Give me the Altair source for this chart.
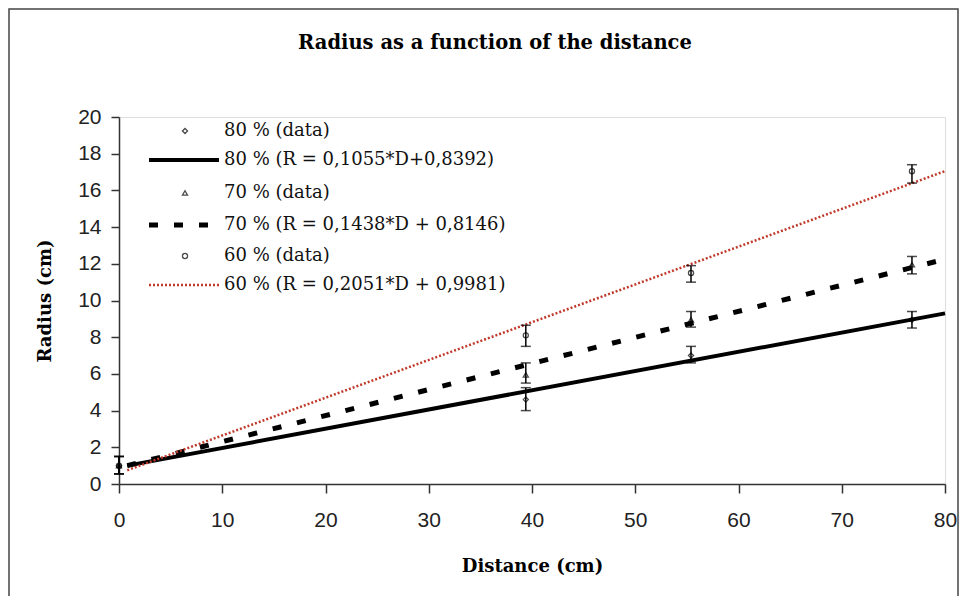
import altair as alt
import pandas as pd

# ---------------- data ----------------
SERIES = ["80 %", "70 %", "60 %"]
DIST = [0, 39.4, 55.4, 76.8]
R_80 = [1.0, 4.6, 7.0, 8.95]
LO_80 = [0.55, 4.0, 6.6, 8.5]
HI_80 = [1.5, 5.25, 7.5, 9.4]
R_70 = [1.0, 5.95, 8.95, 11.95]
LO_70 = [0.55, 5.5, 8.55, 11.45]
HI_70 = [1.5, 6.6, 9.4, 12.4]
R_60 = [1.0, 8.1, 11.5, 17.05]
LO_60 = [0.55, 7.5, 11.0, 16.4]
HI_60 = [1.5, 8.65, 11.9, 17.4]

FIT_D = [0.8, 80]
FIT_80 = [1.0, 9.3]
FIT_70 = [1.0, 12.25]
FIT_60 = [0.75, 17.05]

TITLE = "Radius as a function of the distance"
LEGEND_LABELS = [
    "80 % (data)",
    "80 % (R = 0,1055*D+0,8392)",
    "70 % (data)",
    "70 % (R = 0,1438*D + 0,8146)",
    "60 % (data)",
    "60 % (R = 0,2051*D + 0,9981)",
]
X_TICKS = [0, 10, 20, 30, 40, 50, 60, 70, 80]
Y_TICKS = [0, 2, 4, 6, 8, 10, 12, 14, 16, 18, 20]

# ---------------- styles ----------------
W, H = 826, 367
RED = "#c0392b"
SHAPES = {"80 %": "diamond", "70 %": "triangle-up", "60 %": "circle"}
LINE_STYLE = {
    "80 %": dict(color="black", strokeWidth=4),
    "70 %": dict(color="black", strokeWidth=5, strokeDash=[9, 16]),
    "60 %": dict(color=RED, strokeWidth=2.5, strokeDash=[2, 2]),
}
LEG_Y = [14, 43, 76, 108, 139, 168]
SERIF = "DejaVu Serif"
SANS = "Liberation Sans"

pts = pd.DataFrame({
    "series": sum([[s] * len(DIST) for s in SERIES], []),
    "D": DIST * 3,
    "R": R_80 + R_70 + R_60,
    "lo": LO_80 + LO_70 + LO_60,
    "hi": HI_80 + HI_70 + HI_60,
})
fits = {"80 %": FIT_80, "70 %": FIT_70, "60 %": FIT_60}

xs = alt.Scale(domain=[0, 80], nice=False, zero=False)
ys = alt.Scale(domain=[0, 20], nice=False, zero=False)

XAX = alt.Axis(
    values=X_TICKS, title="Distance (cm)", grid=False, labelFlush=False,
    labelOverlap=False,
    tickSize=9, labelPadding=16, labelFont=SANS, labelFontSize=21,
    labelColor="#222",
    domainColor="#333", tickColor="#333", domainWidth=1.5, tickWidth=1.5,
    titleFont=SERIF, titleFontSize=18, titleFontWeight="bold", titleColor="black",
    titleX=W / 2, titleY=82, titleBaseline="middle", titleAlign="center")
YAX = alt.Axis(
    values=Y_TICKS, title="Radius (cm)", grid=False, labelFlush=False,
    labelOverlap=False,
    tickSize=8, labelPadding=10, labelFont=SANS, labelFontSize=21,
    labelColor="#222",
    domainColor="#333", tickColor="#333", domainWidth=1.5, tickWidth=1.5,
    titleFont=SERIF, titleFontSize=18, titleFontWeight="bold", titleColor="black",
    titleX=-74, titleY=H / 2, titleAngle=270, titleBaseline="middle", titleAlign="center")


def xq(f):
    return alt.X(f"{f}:Q", scale=xs, axis=XAX)


def yq(f):
    return alt.Y(f"{f}:Q", scale=ys, axis=YAX)


layers = []

# fitted lines
for s in SERIES:
    df = pd.DataFrame({"D": FIT_D, "R": fits[s]})
    layers.append(alt.Chart(df).mark_line(**LINE_STYLE[s]).encode(x=xq("D"), y=yq("R")))

# error bars + markers
for s in SERIES:
    sub = pts[pts.series == s]
    base = alt.Chart(sub)
    layers.append(base.mark_rule(color="black", strokeWidth=1.5).encode(
        x=xq("D"), y=yq("lo"), y2="hi:Q"))
    for f in ["lo", "hi"]:
        layers.append(base.mark_point(shape="stroke", size=100, color="black",
                                      strokeWidth=1.5).encode(x=xq("D"), y=yq(f)))
    layers.append(base.mark_point(shape=SHAPES[s], size=26, color="black",
                                  filled=False, strokeWidth=1.3).encode(
        x=xq("D"), y=yq("R")))

# legend (drawn inside the plot, top-left)
one = pd.DataFrame({"k": [0]})
for i, lab in enumerate(LEGEND_LABELS):
    s = SERIES[i // 2]
    yv = LEG_Y[i]
    if i % 2 == 0:
        layers.append(alt.Chart(one).mark_point(
            shape=SHAPES[s], size=26, color="black", filled=False, strokeWidth=1.3
        ).encode(x=alt.value(66), y=alt.value(yv)))
    else:
        layers.append(alt.Chart(one).mark_rule(**LINE_STYLE[s]).encode(
            x=alt.value(30), x2=alt.value(100), y=alt.value(yv)))
    layers.append(alt.Chart(one).mark_text(
        text=lab, align="left", baseline="middle", font=SERIF, fontSize=18,
        color="#111").encode(x=alt.value(105), y=alt.value(yv)))

# chart title
layers.append(alt.Chart(one).mark_text(
    text=TITLE, align="center", baseline="middle", font=SERIF, fontSize=19.5,
    fontWeight="bold", color="black").encode(x=alt.value(376), y=alt.value(-74)))

# outer frame of the chart
layers.append(alt.Chart(one).mark_rect(
    fill="transparent", stroke="#444", strokeWidth=1.5).encode(
    x=alt.value(-110), x2=alt.value(W + 13), y=alt.value(-108), y2=alt.value(H + 200)))

chart = alt.layer(*layers).properties(
    width=W, height=H,
    autosize=alt.AutoSizeParams(type="none"),
    padding={"left": 111, "top": 109, "right": 14, "bottom": 112},
).configure_view(stroke="transparent").configure(background="white")

chart.save("out.html", embed_options={"renderer": "svg", "actions": False})
